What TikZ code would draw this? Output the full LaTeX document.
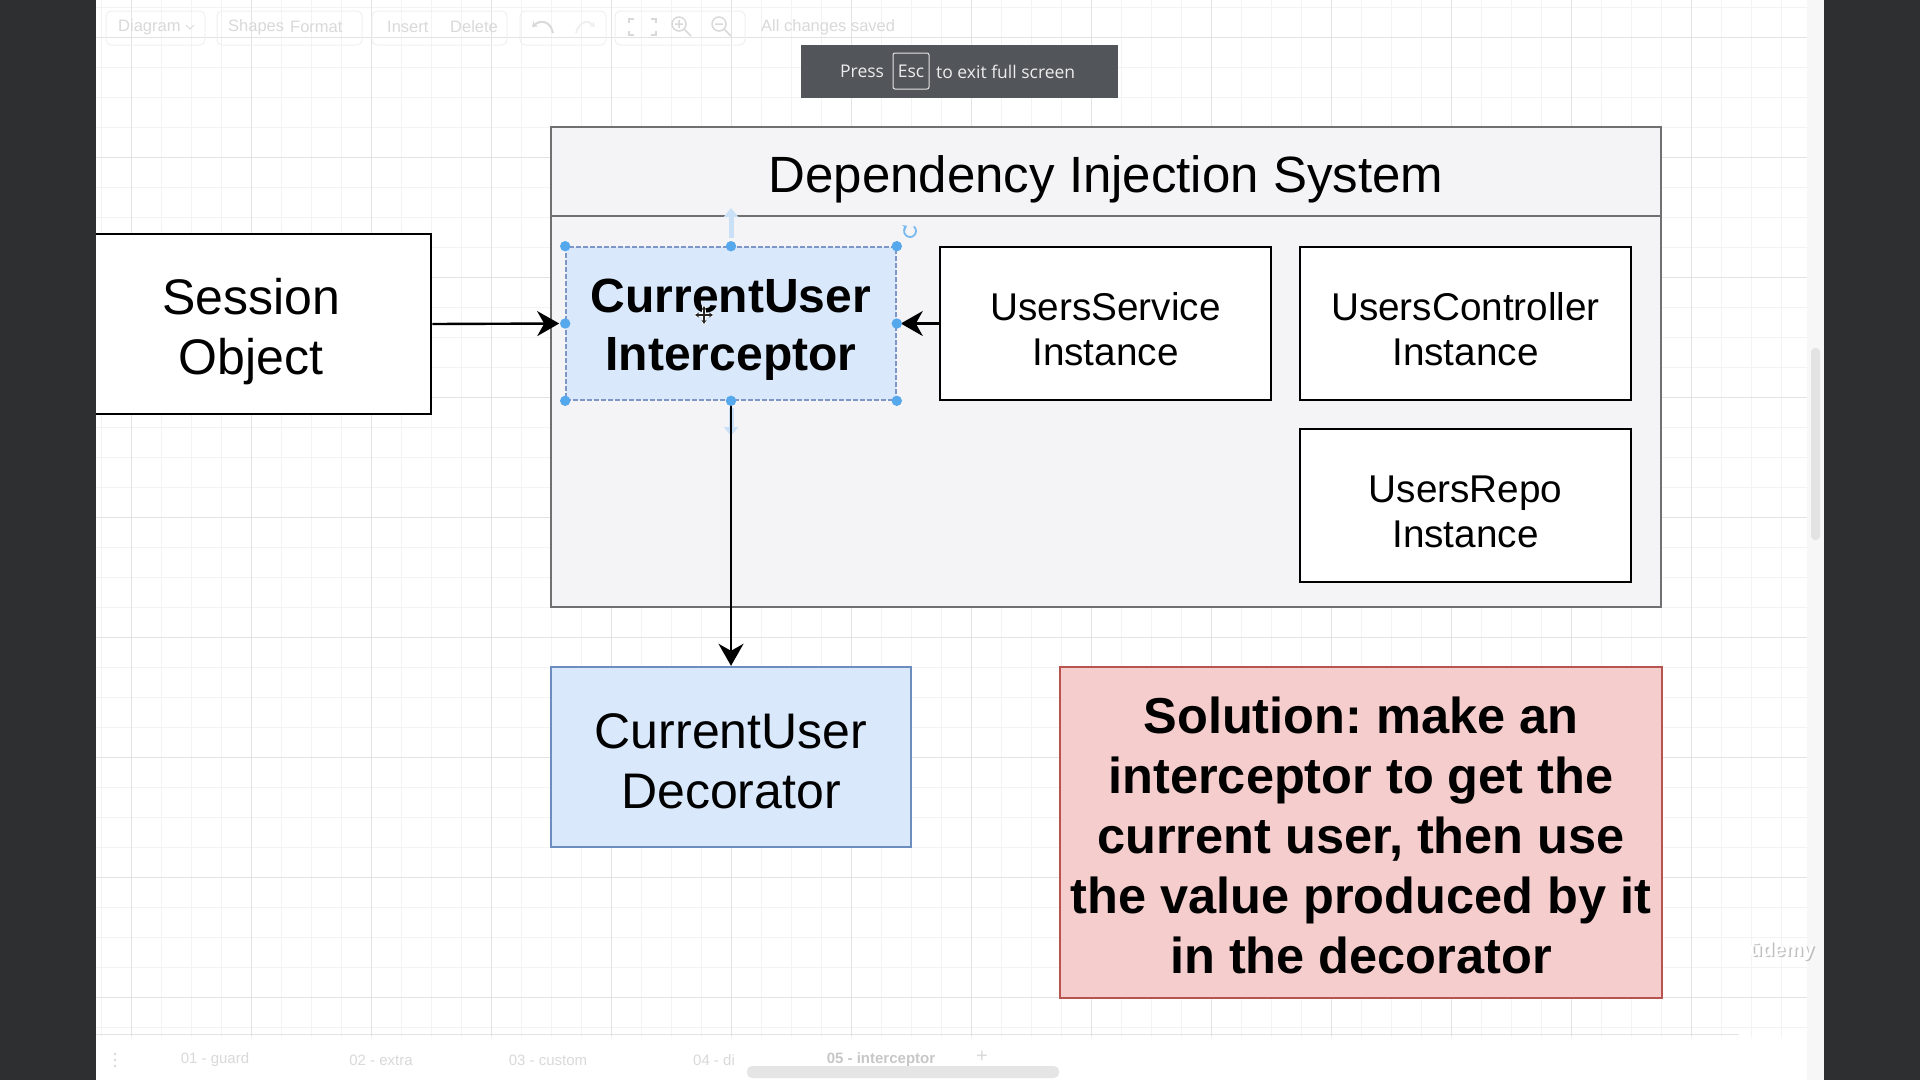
\documentclass[tikz,border=0pt]{standalone}
\usepackage{fontspec}
\setmainfont{Liberation Sans}
\newfontfamily\uifont{Open Sans}
\usetikzlibrary{arrows.meta}
\frenchspacing
\definecolor{darkbar}{HTML}{2E2F31}
\definecolor{gridminor}{HTML}{F3F3F4}
\definecolor{gridmajor}{HTML}{E3E3E5}
\definecolor{contfill}{HTML}{F4F4F6}
\definecolor{contdraw}{HTML}{707070}
\definecolor{bluefill}{HTML}{DAE8FC}
\definecolor{bluedraw}{HTML}{6C8EBF}
\definecolor{selborder}{HTML}{7E96C6}
\definecolor{redfill}{HTML}{F4CDCC}
\definecolor{reddraw}{HTML}{B85450}
\definecolor{handleblue}{HTML}{56A8EC}
\definecolor{hoverblue}{HTML}{C9E0F7}
\definecolor{toolgray}{HTML}{D9D9D9}
\definecolor{toolbox}{HTML}{F0F0F0}
\definecolor{ovgray}{HTML}{525559}
\tikzset{
  plainbox/.style={draw=black, line width=2.6pt, fill=white, inner sep=0pt},
  regtext/.style 2 args={font=\fontsize{#1}{#2}\selectfont, align=center, inner sep=0pt},
  boldtext/.style 2 args={font=\fontsize{#1}{#2}\selectfont\bfseries, align=center, inner sep=0pt},
  conn/.style={line width=2.4pt, -{Stealth[length=22pt,width=25pt,inset=7pt]}},
  handle/.style={fill=handleblue, draw=none},
  tooltext/.style={text=toolgray, font=\fontsize{16.5}{18}\selectfont, inner sep=0pt},
  tabtext/.style={text=toolgray, font=\fontsize{15}{17}\selectfont, inner sep=0pt},
  ovtext/.style={inner sep=0pt, text=white!93!black, font=\uifont\fontsize{17.5}{20}\selectfont},
}
\begin{document}
\begin{tikzpicture}[x=1pt,y=-1pt]
\useasboundingbox (0,0) rectangle (1920,1080);
\fill[white] (0,0) rectangle (1920,1080);
% grid
\foreach \gx in {101,131,...,1781} \draw[gridminor, line width=1pt] (\gx,0) -- (\gx,1040);
\foreach \gy in {7,37,...,1027} \draw[gridminor, line width=1pt] (96,\gy) -- (1807,\gy);
\foreach \gx in {131,251,...,1691} \draw[gridmajor, line width=1pt] (\gx,0) -- (\gx,1040);
\foreach \gy in {37,157,...,997} \draw[gridmajor, line width=1pt] (96,\gy) -- (1807,\gy);
% bottom tab bar
\fill[white, opacity=0.75] (96,1036) rectangle (1807,1080);
\draw[gridmajor, line width=1pt] (96,1034) -- (1739,1034);
\foreach \dy in {1054,1060,1066} \fill[toolgray] (115,\dy) circle (1.3);
\node[tabtext] (t1) at (215,1060) {01 - guard};
\node[tabtext] (t2) at (381,1060) {02 - extra};
\node[tabtext] (t3) at (548,1060) {03 - custom};
\node[tabtext] (t4) at (714,1060) {04 - di};
\node[tabtext, text=black!22, font=\fontsize{15}{17}\selectfont\bfseries] (t5) at (881,1060) {05 - interceptor};
\node[tabtext, font=\fontsize{20}{20}\selectfont] (t6) at (982,1057) {+};
\fill[black!10, rounded corners=5pt] (747,1066) rectangle (1059,1078);
% right strip + scrollbar
\fill[black!3] (1807,0) rectangle (1824,1080);
\fill[black!11, rounded corners=4pt] (1811,348) rectangle (1820,540);
% toolbar
\foreach \a/\b in {106/205,217/362,372/507,520/606,615/745}
  \draw[toolbox, line width=1pt, rounded corners=5pt] (\a,11) rectangle (\b,45);
\node[tooltext, anchor=west] (tb1) at (118,27) {Diagram};
\draw[toolgray, line width=1pt] (186,25) -- (190,29) -- (194,25);
\node[tooltext, anchor=west] (tb2) at (228,27) {Shapes};
\node[tooltext, anchor=west] (tb3) at (290,27) {Format};
\node[tooltext, anchor=west] (tb4) at (387,27) {Insert};
\node[tooltext, anchor=west] (tb5) at (450,27) {Delete};
\draw[toolgray, line width=2pt, -{Stealth[length=5pt,width=7pt]}] (553,33) .. controls (550,20) and (540,20) .. (532,27);
\draw[black!6, line width=2pt, -{Stealth[length=5pt,width=7pt]}] (576,33) .. controls (580,20) and (588,20) .. (595,27);
\draw[toolgray, line width=1.5pt] (629,23) -- (629,19) -- (634,19) (651,19) -- (656,19) -- (656,23) (656,31) -- (656,35) -- (651,35) (634,35) -- (629,35) -- (629,31);
\draw[toolgray, line width=1.5pt] (679,24) circle (7) (684,29) -- (691,36) (675,24) -- (683,24) (679,20) -- (679,28);
\draw[toolgray, line width=1.5pt] (719,24) circle (7) (724,29) -- (731,36) (715,24) -- (723,24);
\node[tooltext, anchor=west] (tb6) at (761,27) {All changes saved};
% full screen overlay
\fill[ovgray] (801,45) rectangle (1118,98);
\node[ovtext, anchor=west] (press) at (840,71.5) {Press};
\node[ovtext, draw=white!90!black, line width=1pt, rounded corners=2pt, minimum width=36pt, minimum height=36pt] (esc) at (911,71) {Esc};
\node[ovtext, anchor=west] (exitt) at (936,71.5) {to exit full screen};
% container
\node[draw=contdraw, fill=contfill, line width=2.4pt, minimum width=1110pt, minimum height=480pt, inner sep=0pt] (dis) at (1106,367) {};
\draw[contdraw, line width=2.4pt] ([yshift=-90pt]dis.north west) -- ([yshift=-90pt]dis.north east);
\node[regtext={51}{60}] (dist) at (1106,179) {Dependency Injection System};
% boxes
\node[plainbox, minimum width=360pt, minimum height=180pt] (so) at (251,324) {};
\node[regtext={50}{60}] (sot) at ([yshift=-8pt]so.center) {Session\\Object};
\node[fill=bluefill, draw=selborder, line width=1.6pt, dash pattern=on 5pt off 2pt, inner sep=0pt, minimum width=330pt, minimum height=153pt] (ci) at (731,323.5) {};
\node[boldtext={48}{57.5}] (cit) at ([yshift=-6pt]ci.center) {CurrentUser\\Interceptor};
\node[plainbox, minimum width=331pt, minimum height=153pt] (us) at (1105.5,323.5) {};
\node[regtext={38.7}{45}] (ust) at ([yshift=-6pt]us.center) {UsersService\\Instance};
\node[plainbox, minimum width=331pt, minimum height=153pt] (uc) at (1465.5,323.5) {};
\node[regtext={38.7}{45}] (uct) at ([yshift=-6pt]uc.center) {UsersController\\Instance};
\node[plainbox, minimum width=331pt, minimum height=153pt] (ur) at (1465.5,505.5) {};
\node[regtext={38.7}{45}] (urt) at ([yshift=-6pt]ur.center) {UsersRepo\\Instance};
\node[fill=bluefill, draw=bluedraw, line width=2.4pt, inner sep=0pt, minimum width=360pt, minimum height=180pt] (cd) at (731,757) {};
\node[regtext={50}{60}] (cdt) at ([yshift=-4pt]cd.center) {CurrentUser\\Decorator};
\node[fill=redfill, draw=reddraw, line width=2.4pt, inner sep=0pt, minimum width=602pt, minimum height=331pt] (sol) at (1361,832.5) {};
\node[boldtext={50.5}{60}] (solt) at ([yshift=-3pt]sol.center) {Solution: make an\\interceptor to get the\\current user, then use\\the value produced by it\\in the decorator};
% hover arrows (faint)
\draw[hoverblue, line width=5pt, -{Triangle[length=9pt,width=14pt]}] (731,238) -- (731,208);
\draw[hoverblue, line width=5pt, -{Triangle[length=9pt,width=14pt]}] (731,408) -- (731,436);
% connectors
\draw[conn] (so.east) -- ([xshift=-6pt]ci.west);
\draw[conn] (us.west) -- ([xshift=4pt]ci.east);
\draw[conn] (ci.south) -- (cd.north);
% selection handles
\foreach \an in {north west,north,north east,west,east,south west,south,south east}
  \fill[handle] (ci.\an) circle (5.2pt);
\draw[handleblue!80, line width=1.8pt, -{Stealth[length=4pt,width=6pt]}] ([shift={(910,231)}]-50:6) arc (-50:240:6);
% move cursor
\draw[white, line width=4.5pt] (695,315) -- (713,315) (704,306) -- (704,324);
\draw[black!85, line width=1.4pt, {Stealth[length=4pt,width=5pt]}-{Stealth[length=4pt,width=5pt]}] (695,315) -- (713,315);
\draw[black!85, line width=1.4pt, {Stealth[length=4pt,width=5pt]}-{Stealth[length=4pt,width=5pt]}] (704,306) -- (704,324);
% watermark
\node[text=black!25, font=\fontsize{20}{20}\selectfont\bfseries, inner sep=0pt] (wm0) at (1783.5,952.5) {ūdemy};
\node[text=white, font=\fontsize{20}{20}\selectfont\bfseries, inner sep=0pt] (wm) at (1782,951) {ūdemy};
% dark side bars
\fill[darkbar] (0,0) rectangle (96,1080);
\fill[darkbar] (1824,0) rectangle (1920,1080);
\end{tikzpicture}
\end{document}
